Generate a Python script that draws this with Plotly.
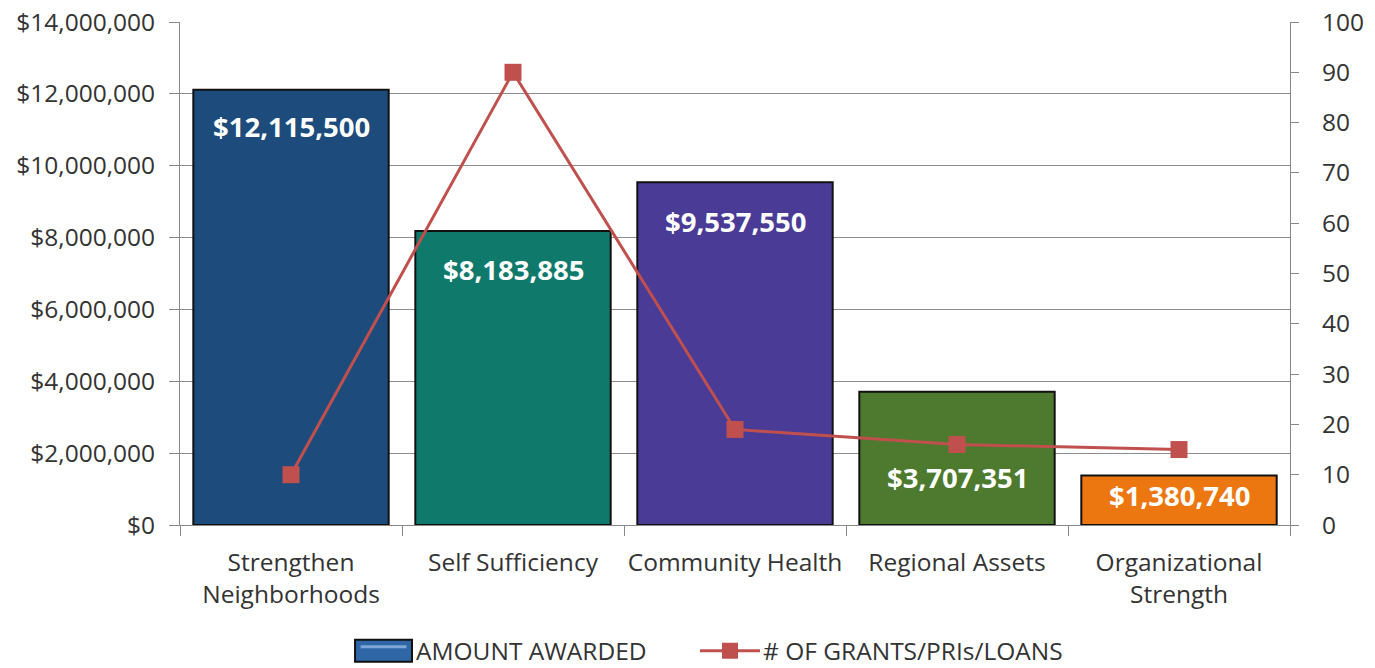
import plotly.graph_objects as go

categories = ["Strengthen<br>Neighborhoods", "Self Sufficiency", "Community Health",
              "Regional Assets", "Organizational<br>Strength"]
amount_awarded = [12115500, 8183885, 9537550, 3707351, 1380740]
num_grants = [10, 90, 19, 16, 15]
series_names = ["AMOUNT AWARDED", "# OF GRANTS/PRIs/LOANS"]

bar_colors = ["#1D4C7C", "#0F7A6C", "#4A3B97", "#4D7A2E", "#EC7710"]
label_shift = [-37, -39, -39, -86, -20]
LINE_COLOR = "#C0504D"

FONT = "Open Sans"
TXT = "#333333"

fig = go.Figure()
fig.add_trace(go.Bar(
    x=categories, y=amount_awarded, name=series_names[0],
    marker=dict(color=bar_colors, line=dict(color="#111111", width=2)),
    width=0.88, yaxis="y",
))
fig.add_trace(go.Scatter(
    x=categories, y=num_grants, name=series_names[1], yaxis="y2",
    mode="lines+markers",
    line=dict(color=LINE_COLOR, width=3),
    marker=dict(symbol="square", size=17, color=LINE_COLOR),
))

for c, v, s in zip(categories, amount_awarded, label_shift):
    fig.add_annotation(x=c, y=v, yref="y", xref="x", yshift=s, showarrow=False,
                       text=f"<b>${v:,}</b>",
                       font=dict(family=FONT, size=27.5, color="white"))

# manual legend (paper coordinates)
LY = -0.25
fig.add_shape(type="rect", xref="paper", yref="paper", x0=0.1577, x1=0.209,
              y0=LY - 0.022, y1=LY + 0.022, fillcolor="#2E66A6",
              line=dict(color="#111111", width=2))
fig.add_shape(type="line", xref="paper", yref="paper", x0=0.1627, x1=0.204,
              y0=LY + 0.008, y1=LY + 0.008, line=dict(color="#7FA8D8", width=3))
fig.add_annotation(xref="paper", yref="paper", x=0.2117, y=LY, xanchor="left",
                   yanchor="middle", showarrow=False, text=series_names[0], borderpad=0,
                   font=dict(family=FONT, size=24.5, color=TXT))
fig.add_shape(type="line", xref="paper", yref="paper", x0=0.4685, x1=0.5225,
              y0=LY, y1=LY, line=dict(color=LINE_COLOR, width=3))
fig.add_shape(type="rect", xref="paper", yref="paper", x0=0.4955 - 0.0072,
              x1=0.4955 + 0.0072, y0=LY - 0.0159, y1=LY + 0.0159,
              fillcolor=LINE_COLOR, line=dict(width=0))
fig.add_annotation(xref="paper", yref="paper", x=0.5243, y=LY, xanchor="left",
                   yanchor="middle", showarrow=False, text=series_names[1], borderpad=0,
                   font=dict(family=FONT, size=24.5, color=TXT))

fig.update_layout(
    width=1375, height=668,
    margin=dict(l=172, r=93, t=14, b=151),
    paper_bgcolor="white", plot_bgcolor="white",
    font=dict(family=FONT, size=22, color=TXT),
    showlegend=False,
    bargap=0.12,
    xaxis=dict(showline=True, linecolor="#888888", ticks="outside", tickson="boundaries",
               ticklen=10, tickcolor="#888888", tickfont=dict(size=24.5), automargin=False,
               ticklabelstandoff=16, tickangle=0, ticklabeloverflow="allow"),
    yaxis=dict(range=[0, 14000000], dtick=2000000, tickprefix="$", tickformat=",d",
               showgrid=True, gridcolor="#8c8c8c", gridwidth=1,
               showline=True, linecolor="#888888", ticks="outside", ticklen=10,
               tickcolor="#888888", tickfont=dict(size=24.5), zeroline=False,
               automargin=False, ticklabelstandoff=9, ticklabeloverflow="allow"),
    yaxis2=dict(range=[0, 100], dtick=10, overlaying="y", side="right",
                showgrid=False, showline=True, linecolor="#888888", ticks="outside",
                ticklen=8, tickcolor="#888888", tickfont=dict(size=24.5), zeroline=False,
                automargin=False, ticklabelstandoff=18, ticklabeloverflow="allow"),
)

fig.write_html("out.html")
